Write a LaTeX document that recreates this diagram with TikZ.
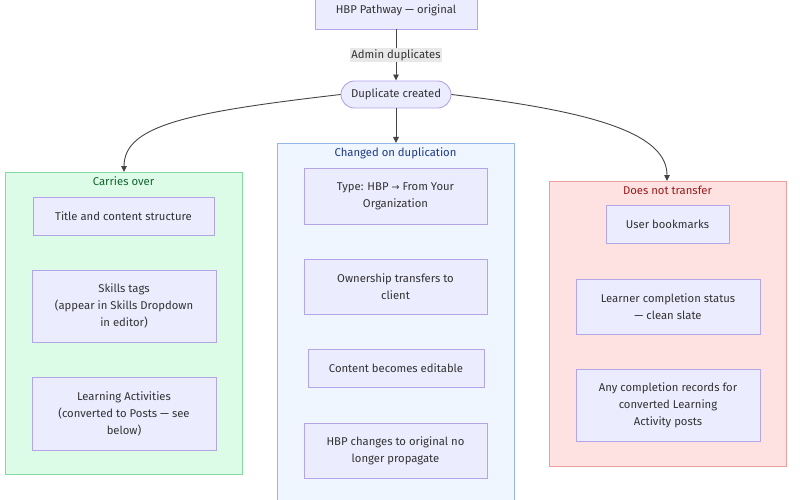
\documentclass[tikz,border=0pt]{standalone}
\usepackage{fontspec}
\setmainfont{Fira Sans}
\usetikzlibrary{arrows.meta}
\definecolor{nodefill}{HTML}{ECECFF}
\definecolor{nodestroke}{HTML}{B4A5E6}
\definecolor{txt}{HTML}{333333}
\definecolor{gfill}{HTML}{DCFCE7}
\definecolor{gstroke}{HTML}{86D9A2}
\definecolor{gtext}{HTML}{14632F}
\definecolor{bfill}{HTML}{EFF6FF}
\definecolor{bstroke}{HTML}{93B8E8}
\definecolor{btext}{HTML}{1E3A8A}
\definecolor{rfill}{HTML}{FEE2E2}
\definecolor{rstroke}{HTML}{EBA0A0}
\definecolor{rtext}{HTML}{991B1B}
\definecolor{edgec}{HTML}{444444}
\definecolor{lblbg}{HTML}{E8E8E8}
\tikzset{
  box/.style={draw=nodestroke, fill=nodefill, line width=0.9pt, text=txt, align=center, font=\fontsize{11.3}{17}\selectfont, inner sep=0pt},
  cluster/.style={line width=0.9pt, inner sep=0pt},
  ctitle/.style={font=\fontsize{11.3}{13}\selectfont, inner sep=0pt},
  conn/.style={draw=edgec, line width=0.9pt, -{Triangle[length=6pt,width=5.5pt]}},
}
\begin{document}
\begin{tikzpicture}[x=1pt,y=-1pt]
\useasboundingbox (0,0) rectangle (800,500);
% clusters
\path[cluster, draw=gstroke, fill=gfill] (5,172) rectangle (242,474);
\node[ctitle, text=gtext] (tg) at (123.5,181.5) {Carries over};
\path[cluster, draw=bstroke, fill=bfill] (277,143) rectangle (514,510);
\node[ctitle, text=btext] (tb) at (395.5,153) {Changed on duplication};
\path[cluster, draw=rstroke, fill=rfill] (549,181) rectangle (786,466);
\node[ctitle, text=rtext] (tr) at (667.5,190) {Does not transfer};
\coordinate (cg) at (124,172);
\coordinate (cb) at (396,143);
\coordinate (cr) at (667,181);
% top
\node[box, minimum width=162pt, minimum height=38pt] (top) at (396,10) {HBP Pathway — original};
\node[box, rounded corners=13.5pt, minimum width=110pt, minimum height=27pt] (dup) at (396,94.5) {Duplicate created};
\draw[conn] (top.south) -- node[fill=lblbg, text=txt, font=\fontsize{11.3}{13}\selectfont, inner sep=1.5pt] {Admin duplicates} (dup.north);
% green nodes
\node[box, minimum width=181pt, minimum height=38pt] (g1) at (123.5,216) {Title and content structure};
\node[box, minimum width=184pt, minimum height=72pt] (g2) at (124,306) {Skills tags\\(appear in Skills Dropdown\\in editor)};
\node[box, minimum width=184pt, minimum height=73pt] (g3) at (124,413.5) {Learning Activities\\(converted to Posts — see\\below)};
% blue nodes
\node[box, minimum width=183pt, minimum height=56pt] (b1) at (395.5,196) {Type: HBP {\fontspec{DejaVu Sans}\fontsize{9.5}{9.5}\selectfont →} From Your\\Organization};
\node[box, minimum width=183pt, minimum height=55pt] (b2) at (395.5,286.5) {Ownership transfers to\\client};
\node[box, minimum width=176pt, minimum height=38pt] (b3) at (396,368) {Content becomes editable};
\node[box, minimum width=183pt, minimum height=55pt] (b4) at (395.5,450.5) {HBP changes to original no\\longer propagate};
% red nodes
\node[box, minimum width=123pt, minimum height=38pt] (r1) at (667.5,224) {User bookmarks};
\node[box, minimum width=184pt, minimum height=55pt] (r2) at (668,306.5) {Learner completion status\\— clean slate};
\node[box, minimum width=184pt, minimum height=72pt] (r3) at (668,405) {Any completion records for\\converted Learning\\Activity posts};
% edges
\draw[conn] (dup.west) .. controls (190,112) and (124,125) .. (cg);
\draw[conn] (dup.south) -- (cb);
\draw[conn] (dup.east) .. controls (600,112) and (667,135) .. (cr);
\end{tikzpicture}
\end{document}
